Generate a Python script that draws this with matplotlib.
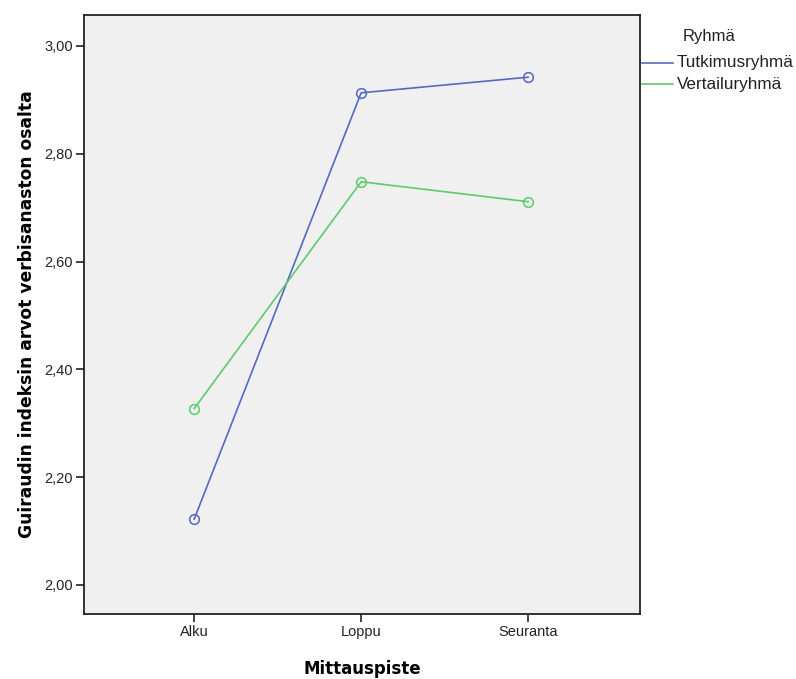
import matplotlib
matplotlib.use("Agg")
import matplotlib.pyplot as plt
from matplotlib.lines import Line2D
from matplotlib.ticker import FuncFormatter

# values
kohdat = ["Alku", "Loppu", "Seuranta"]
tutkimus = [2.122, 2.913, 2.942]
vertailu = [2.327, 2.748, 2.711]
ryhmat = ["Tutkimusryhmä", "Vertailuryhmä"]
yticks = [2.0, 2.2, 2.4, 2.6, 2.8, 3.0]

blue = "#5468c4"
green = "#5ccc6a"
colors = [blue, green]

plt.rcParams['font.family'] = ['Liberation Sans', 'DejaVu Sans']

W, H = 796, 679
fig = plt.figure(figsize=(W / 100, H / 100), dpi=100)
ax = fig.add_axes([0.1055, 0.0957, 0.6985, 0.8823])
ax.set_facecolor("#f0f0f0")

x = list(range(len(kohdat)))
for vals, c in zip([tutkimus, vertailu], colors):
    ax.plot(x, vals, color=c, lw=1.2, marker="o", ms=7,
            mfc="none", mec=c, mew=1.1)

ax.set_xlim(-0.66, 2.67)
ax.set_ylim(1.946, 3.0575)
ax.set_xticks(x)
ax.set_xticklabels(kohdat)
ax.set_yticks(yticks)
ax.yaxis.set_major_formatter(FuncFormatter(lambda v, p: f"{v:.2f}".replace(".", ",")))
ax.tick_params(axis="both", labelsize=10.5, length=6, width=1.2, color="#222222",
               labelcolor="#222222", pad=2)
for s in ax.spines.values():
    s.set_linewidth(1.3)
    s.set_color("#222222")

ax.set_xlabel("Mittauspiste", fontsize=12, fontweight="bold",
              family=["DejaVu Sans"], labelpad=15)
ax.set_ylabel("Guiraudin indeksin arvot verbisanaston osalta", fontsize=12.3,
              fontweight="bold", family=["DejaVu Sans"], labelpad=6)

# legend drawn by hand, in pixel positions of the figure
fig.text(683 / W, 1 - 36 / H, "Ryhmä", fontsize=12, va="center", ha="left",
         color="#222222")
for i, (name, c) in enumerate(zip(ryhmat, colors)):
    yy = 1 - (63 + 21 * i) / H
    fig.add_artist(Line2D([642 / W, 673 / W], [yy, yy], color=c, lw=1.2,
                          transform=fig.transFigure))
    fig.text(677 / W, yy, name, fontsize=12.3, va="center", ha="left",
             color="#222222")

fig.savefig("out.png", dpi=100)
